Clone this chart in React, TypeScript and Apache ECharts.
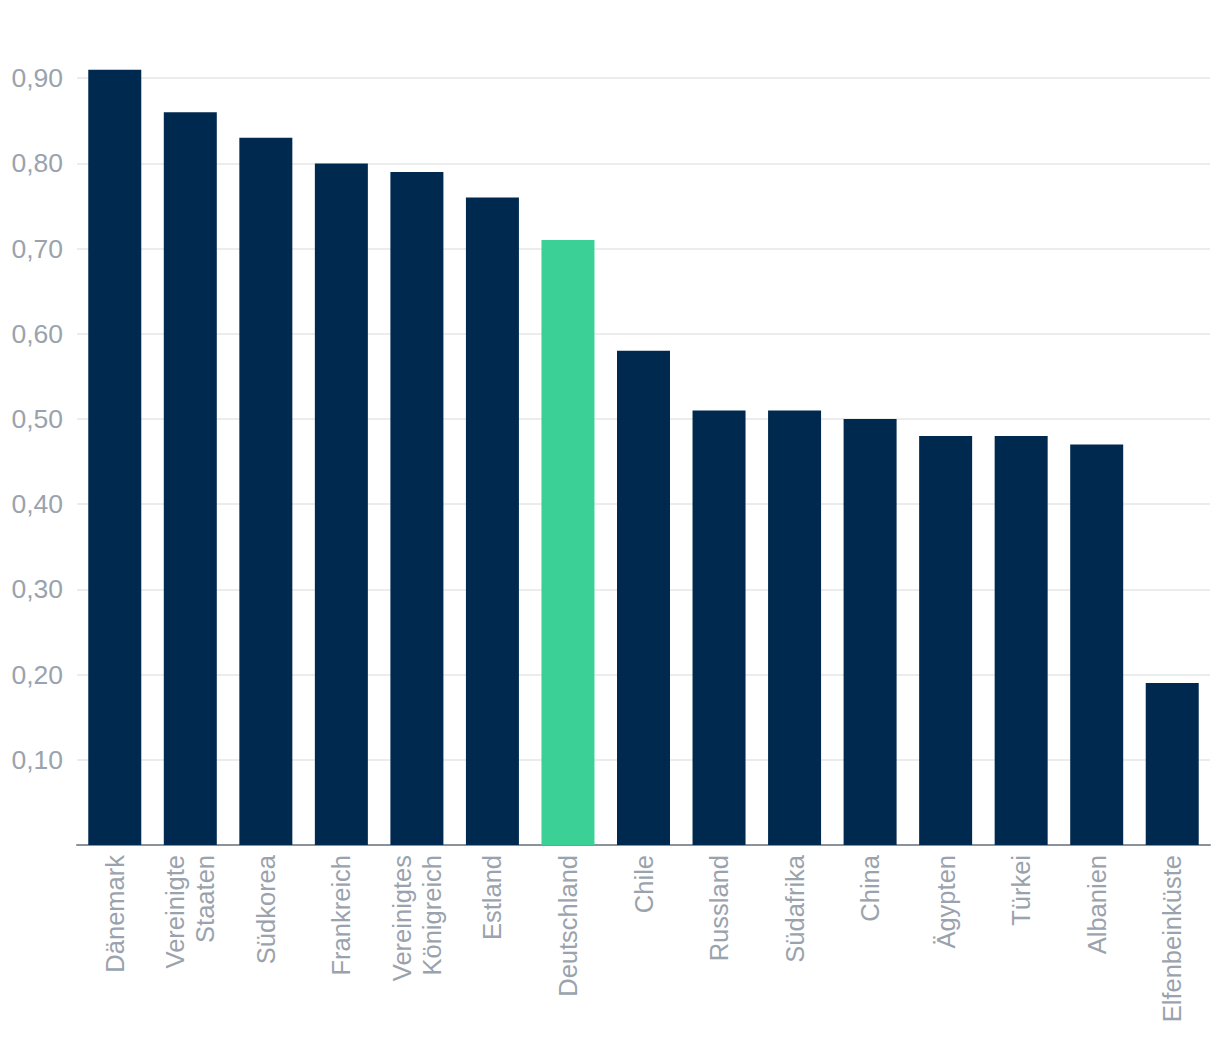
import React, { useEffect, useRef } from "react";
import * as echarts from "echarts";

const categories = [
  "Dänemark",
  "Vereinigte\nStaaten",
  "Südkorea",
  "Frankreich",
  "Vereinigtes\nKönigreich",
  "Estland",
  "Deutschland",
  "Chile",
  "Russland",
  "Südafrika",
  "China",
  "Ägypten",
  "Türkei",
  "Albanien",
  "Elfenbeinküste",
];
const values = [0.91, 0.86, 0.83, 0.8, 0.79, 0.76, 0.71, 0.58, 0.51, 0.51, 0.5, 0.48, 0.48, 0.47, 0.19];
const highlight = "Deutschland";

const NAVY = "#00294F";
const GREEN = "#3AD096";
const LABEL = "#9AA3AD";
const FONT = "'Liberation Sans', Arial, sans-serif";

export default function App() {
  const ref = useRef<HTMLDivElement>(null);
  useEffect(() => {
    if (!ref.current) return;
    const chart = echarts.init(ref.current, undefined, { renderer: "svg" });
    chart.setOption({
      animation: false,
      grid: { left: 77, right: 10, top: 0, bottom: 197, containLabel: false },
      xAxis: {
        type: "category",
        data: categories,
        axisTick: { show: false },
        axisLine: { lineStyle: { color: "#8A939C", width: 2 } },
        axisLabel: {
          rotate: 90,
          interval: 0,
          margin: 10,
          color: LABEL,
          fontSize: 25.5,
          fontFamily: FONT,
          lineHeight: 30,
        },
      },
      yAxis: {
        type: "value",
        min: 0,
        max: 1,
        interval: 0.1,
        axisLine: { show: false },
        axisTick: { show: false },
        splitLine: { lineStyle: { color: "#E6E6E6", width: 1.5 } },
        axisLabel: {
          margin: 14,
          color: LABEL,
          fontSize: 26.5,
          fontFamily: FONT,
          formatter: (v: number) =>
            v <= 0.0001 || v >= 0.9999 ? "" : v.toFixed(2).replace(".", ","),
        },
      },
      series: [
        {
          type: "bar",
          barWidth: 53,
          data: values.map((v, i) => ({
            value: v,
            itemStyle: { color: categories[i] === highlight ? GREEN : NAVY },
          })),
        },
      ],
    });
    return () => chart.dispose();
  }, []);
  return (
    <div style={{ position: "fixed", left: 0, top: 0, width: 1220, height: 1042, overflow: "hidden", background: "#fff" }}>
      <div
        ref={ref}
        style={{ position: "absolute", left: 0, top: -7, width: 1220, height: 1049 }}
      />
    </div>
  );
}
